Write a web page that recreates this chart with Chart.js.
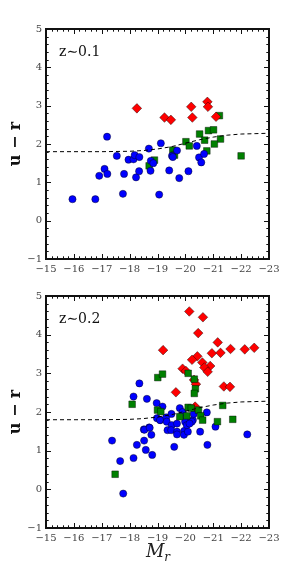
<!DOCTYPE html>
<html>
<head>
<meta charset="utf-8">
<script src="https://cdn.jsdelivr.net/npm/chart.js@4.4.1/dist/chart.umd.min.js"></script>
<style>
  body { margin: 0; background: #fff; width: 299px; height: 588px; overflow: hidden; position: relative; }
  .panel { position: absolute; left: 0; width: 299px; }
  #mrLabel { position: absolute; left: 158px; top: 541px; transform: translateX(-50%);
    font-family: "DejaVu Serif", serif; font-size: 18px; line-height: 20px; color: #222; white-space: nowrap; }
  #mrLabel sub { font-size: 12px; font-style: italic; vertical-align: -4px; }
</style>
</head>
<body>
<div class="panel" style="top:0;height:280px"><canvas id="topChart" width="299" height="280"></canvas></div>
<div class="panel" style="top:280px;height:308px"><canvas id="bottomChart" width="299" height="308"></canvas></div>
<div id="mrLabel"><i>M</i><sub>r</sub></div>
<script>
// z~0.1 sample
const topBlueMr = [-17.19, -15.95, -16.77, -16.91, -17.10, -17.20, -17.54, -17.76, -17.80, -17.96, -18.14, -18.18, -18.35, -18.23, -18.34, -18.69, -18.76, -18.85, -18.75, -19.12, -19.06, -19.42, -19.52, -19.55, -19.70, -19.78, -20.11, -20.41, -20.49, -20.57, -20.67];
const topBlueUr = [2.19, 0.56, 0.56, 1.17, 1.35, 1.22, 1.69, 0.70, 1.22, 1.59, 1.60, 1.71, 1.66, 1.13, 1.29, 1.88, 1.56, 1.50, 1.30, 2.02, 0.68, 1.31, 1.69, 1.66, 1.83, 1.11, 1.29, 1.95, 1.65, 1.52, 1.74];
const topGreenMr = [-21.22, -20.51, -20.83, -21.01, -20.02, -20.14, -20.69, -21.26, -21.04, -20.77, -19.55, -19.61, -18.89, -18.70, -22.00];
const topGreenUr = [2.74, 2.26, 2.35, 2.37, 2.06, 1.95, 2.10, 2.13, 2.00, 1.82, 1.84, 1.71, 1.58, 1.43, 1.69];
const topRedMr = [-18.26, -19.25, -19.48, -20.21, -20.25, -20.79, -20.81, -21.10];
const topRedUr = [2.93, 2.69, 2.63, 2.97, 2.69, 3.10, 2.97, 2.71];

// z~0.2 sample
const botBlueMr = [-18.35, -18.14, -18.62, -18.97, -19.18, -19.80, -20.77, -18.98, -19.10, -19.31, -20.03, -20.27, -18.70, -18.51, -19.09, -19.33, -19.51, -19.99, -20.23, -17.37, -17.66, -17.77, -18.14, -18.26, -18.53, -18.52, -18.58, -18.72, -18.78, -18.81, -19.36, -19.49, -19.70, -19.70, -19.60, -19.96, -19.95, -20.09, -20.05, -20.53, -20.79, -21.08, -22.22, -19.50, -19.70, -19.90, -20.30, -20.15];
const botBlueUr = [2.74, 2.40, 2.34, 2.23, 2.14, 2.10, 1.99, 1.84, 1.79, 1.86, 1.88, 1.79, 1.60, 1.55, 1.79, 1.75, 1.66, 1.75, 1.75, 1.26, 0.73, -0.11, 0.81, 1.15, 1.54, 1.26, 1.02, 1.59, 1.41, 0.89, 1.53, 1.53, 1.49, 1.42, 1.10, 1.51, 1.41, 1.49, 1.66, 1.49, 1.15, 1.62, 1.42, 1.95, 1.70, 2.00, 1.95, 1.70];
const botGreenMr = [-19.01, -19.18, -20.10, -20.32, -20.36, -20.32, -18.09, -21.34, -21.70, -21.15, -19.00, -19.12, -19.80, -20.10, -20.21, -20.47, -20.55, -20.05, -17.48, -20.62];
const botGreenUr = [2.89, 2.98, 3.00, 2.85, 2.60, 2.48, 2.20, 2.17, 1.81, 1.75, 2.05, 2.01, 1.88, 2.12, 2.10, 2.05, 1.90, 1.90, 0.39, 1.79];
const botRedMr = [-20.14, -20.63, -20.46, -21.16, -19.20, -20.95, -21.26, -21.62, -22.13, -22.47, -20.43, -20.24, -20.61, -20.89, -20.68, -20.80, -19.90, -20.02, -20.31, -20.38, -19.66, -21.38, -21.60, -20.35];
const botRedUr = [4.60, 4.45, 4.04, 3.80, 3.60, 3.52, 3.53, 3.63, 3.62, 3.66, 3.44, 3.35, 3.28, 3.19, 3.15, 3.04, 3.12, 3.06, 2.83, 2.72, 2.51, 2.66, 2.65, 2.14];

// dividing line (same in both panels)
const lineMr = [-15, -16, -17, -18, -18.5, -19, -19.5, -20, -20.5, -21, -21.5, -22, -22.5, -23];
const lineUr = [1.80, 1.80, 1.80, 1.81, 1.83, 1.87, 1.93, 2.02, 2.11, 2.18, 2.23, 2.26, 2.27, 2.28];

const xTicks = [-15, -16, -17, -18, -19, -20, -21, -22, -23];
const yTicks = [-1, 0, 1, 2, 3, 4, 5];

Chart.defaults.font.family = "'DejaVu Serif', serif";
Chart.defaults.color = '#444';

function pts(xs, ys) {
    return xs.map((v, i) => ({x: v, y: ys[i]}));
}

function minus(v) {
    return v < 0 ? '\u2212' + Math.abs(v) : String(v);
}

// box with inward ticks on all four sides + panel label
const framePlugin = {
    id: 'frame',
    afterDatasetsDraw(chart, args, opts) {
        const ctx = chart.ctx;
        const a = chart.chartArea;
        const xs = chart.scales.x;
        const ys = chart.scales.y;
        ctx.save();
        ctx.strokeStyle = '#111';
        ctx.lineWidth = 1;
        ctx.beginPath();
        for (let i = 0; i <= 40; i++) {
            const v = -23 + i * 0.2;
            const len = i % 5 === 0 ? 5 : 2.7;
            const px = Math.round(xs.getPixelForValue(v)) + 0.5;
            ctx.moveTo(px, a.bottom); ctx.lineTo(px, a.bottom - len);
            ctx.moveTo(px, a.top); ctx.lineTo(px, a.top + len);
        }
        for (let i = 0; i <= 30; i++) {
            const v = -1 + i * 0.2;
            const len = i % 5 === 0 ? 5 : 2.7;
            const py = Math.round(ys.getPixelForValue(v)) + 0.5;
            ctx.moveTo(a.left, py); ctx.lineTo(a.left + len, py);
            ctx.moveTo(a.right, py); ctx.lineTo(a.right - len, py);
        }
        ctx.stroke();
        ctx.lineWidth = 2;
        ctx.strokeRect(a.left, a.top, a.right - a.left, a.bottom - a.top);
        ctx.fillStyle = '#111';
        ctx.font = "14px 'DejaVu Serif', serif";
        ctx.textBaseline = 'middle';
        ctx.fillText(opts.text, a.left + 13, a.top + 23);
        ctx.restore();
    }
};

function makeChart(id, label, blue, green, red, padTop, padBottom, blueOnTop) {
    const edge = 'rgba(0,0,0,0.7)';
    new Chart(document.getElementById(id), {
        type: 'scatter',
        data: {
            datasets: [
                {label: 'line', type: 'line', data: pts(lineMr, lineUr), borderColor: '#000', borderWidth: 1,
                 borderDash: [4, 3], pointRadius: 0, fill: false, tension: 0, order: 0},
                {label: 'blue', data: blue, backgroundColor: '#0000ff', borderColor: edge, borderWidth: 0.6,
                 pointStyle: 'circle', pointRadius: 3.6, order: blueOnTop ? 1 : 3},
                {label: 'green', data: green, backgroundColor: '#008000', borderColor: edge, borderWidth: 0.6,
                 pointStyle: 'rect', pointRadius: 4.7, order: blueOnTop ? 3 : 1},
                {label: 'red', data: red, backgroundColor: '#ff0000', borderColor: edge, borderWidth: 0.6,
                 pointStyle: 'rectRot', pointRadius: 4.8, order: 2}
            ]
        },
        options: {
            responsive: false,
            animation: false,
            devicePixelRatio: 1,
            layout: {padding: {top: padTop, right: 30, bottom: padBottom, left: 0}},
            plugins: {legend: {display: false}, tooltip: {enabled: false}, frame: {text: label}},
            scales: {
                x: {
                    type: 'linear', min: -23, max: -15, reverse: true,
                    grid: {display: false, drawTicks: false}, border: {display: false},
                    afterBuildTicks: s => { s.ticks = xTicks.map(v => ({value: v})); },
                    ticks: {padding: 4, font: {size: 10}, maxRotation: 0, callback: v => minus(v)},
                    afterFit: s => { s.height = 21; }
                },
                y: {
                    type: 'linear', min: -1, max: 5,
                    grid: {display: false, drawTicks: false}, border: {display: false},
                    afterBuildTicks: s => { s.ticks = yTicks.map(v => ({value: v})); },
                    ticks: {padding: 4, font: {size: 10}, callback: v => minus(v)},
                    title: {display: true, text: 'u \u2212 r', color: '#111', padding: {top: 6, bottom: 0},
                            font: {size: 16, weight: 'bold', family: "'DejaVu Serif', serif"}},
                    afterFit: s => { s.width = 46; }
                }
            }
        },
        plugins: [framePlugin]
    });
}

makeChart('topChart', 'z\u223C0.1', pts(topBlueMr, topBlueUr), pts(topGreenMr, topGreenUr), pts(topRedMr, topRedUr), 29, 0, true);
makeChart('bottomChart', 'z\u223C0.2', pts(botBlueMr, botBlueUr), pts(botGreenMr, botGreenUr), pts(botRedMr, botRedUr), 16, 39, false);
</script>
</body>
</html>
